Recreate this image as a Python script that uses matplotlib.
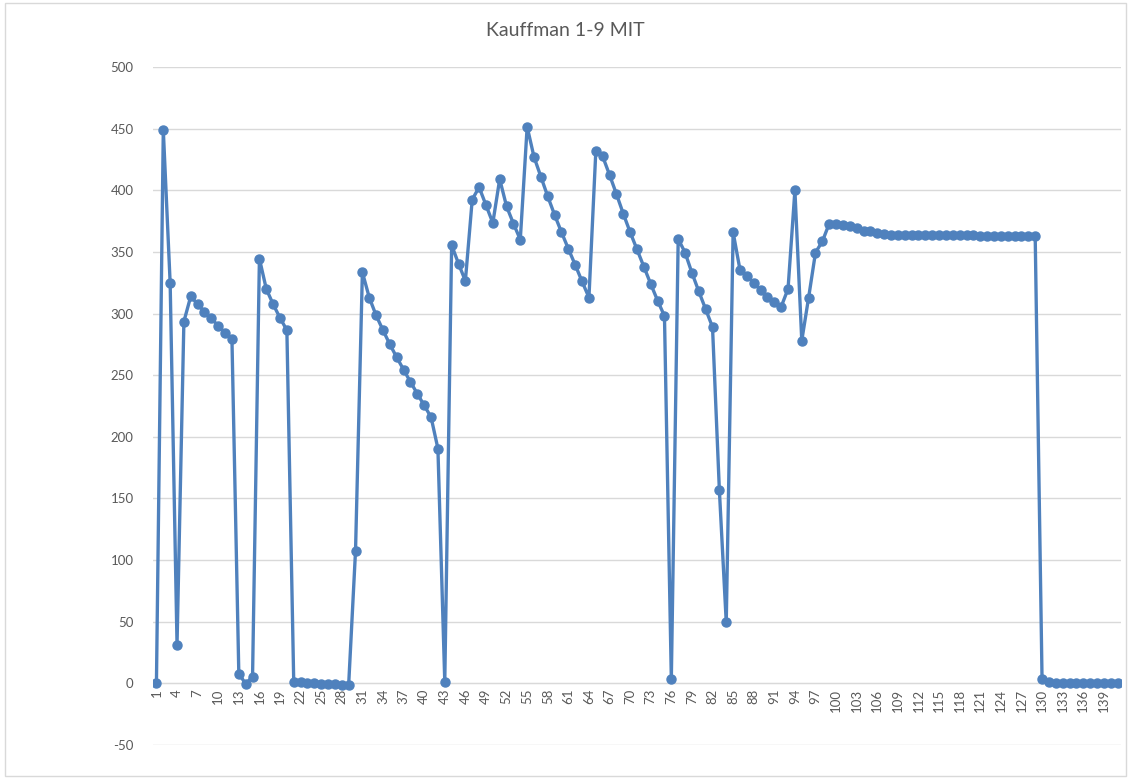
import matplotlib.pyplot as plt
from matplotlib.patches import Rectangle

# values, one per category 1..141
vals_1_10 = [0, 449, 324.5, 31.5, 293.5, 314, 307.5, 301.5, 296, 290]
vals_11_20 = [284.5, 279, 8, -0.5, 5.5, 344.5, 320, 307.5, 296.5, 286.5]
vals_21_30 = [1, 1, 0.5, 0, -0.3, -0.5, -0.7, -1, -1.2, 107.5]
vals_31_40 = [333.5, 313, 298.5, 286.5, 275, 264.5, 254.5, 244.5, 235, 225.5]
vals_41_50 = [216, 190.5, 1.3, 355.5, 340.5, 326.5, 392.5, 402.5, 388, 373.5]
vals_51_60 = [409, 387, 373, 360, 451.5, 427, 411, 395, 380, 366]
vals_61_70 = [352.5, 339.5, 326, 313, 431.5, 427.5, 412.5, 397, 381, 366]
vals_71_80 = [352, 338, 324, 310.5, 298, 3.5, 360.5, 349.5, 333, 318]
vals_81_90 = [303.5, 289, 156.5, 49.5, 366, 335.5, 330.5, 325, 319, 313.5]
vals_91_100 = [309.5, 305.5, 320, 400, 278, 313, 349.5, 358.5, 373, 372.5]
vals_101_110 = [371.5, 371, 369, 367, 367, 365, 364.5, 364, 363.8, 363.7]
vals_111_120 = [363.6, 363.5, 363.5, 363.5, 363.5, 363.5, 363.5, 363.5, 363.5, 363.4]
vals_121_130 = [363.3, 363.3, 363.3, 363.2, 363.2, 363.2, 363.2, 363.2, 363.2, 3.3]
vals_131_141 = [0.8, 0.5, 0.4, 0.3, 0.2, 0.2, 0.1, 0.1, 0, 0, 0]

values = (vals_1_10 + vals_11_20 + vals_21_30 + vals_31_40 + vals_41_50
          + vals_51_60 + vals_61_70 + vals_71_80 + vals_81_90 + vals_91_100
          + vals_101_110 + vals_111_120 + vals_121_130 + vals_131_141)
categories = list(range(1, len(values) + 1))
tick_cats = list(range(1, len(values) + 1, 3))

plt.rcParams['font.family'] = ['Lato', 'DejaVu Sans']
plt.rcParams['axes.unicode_minus'] = False
grey_txt = '#595959'
grid_col = '#D9D9D9'
blue = '#4F81BD'

fig = plt.figure(figsize=(11.31, 7.78), dpi=100)
ax = fig.add_axes([153 / 1131, 33 / 778, 968 / 1131, 678 / 778])

# category axis crosses at 0, like in Excel
for s in ['top', 'right', 'left']:
    ax.spines[s].set_visible(False)
ax.spines['bottom'].set_position(('data', 0))
ax.spines['bottom'].set_color(grid_col)

ax.plot(categories, values, color=blue, linewidth=2.4, marker='o',
        markersize=6.5, markerfacecolor=blue, markeredgecolor=blue, zorder=3)

ax.set_xlim(0.5, len(values) + 0.5)
ax.set_ylim(-50, 500)
ax.set_yticks(range(-50, 501, 50))
ax.set_xticks(tick_cats)
ax.set_xticklabels([str(c) for c in tick_cats])

ax.grid(axis='y', color=grid_col, linewidth=1)
ax.set_axisbelow(True)
ax.tick_params(axis='both', length=0, colors=grey_txt, labelsize=9.5)
ax.tick_params(axis='y', pad=14)
ax.tick_params(axis='x', pad=4, labelrotation=90)

fig.text(0.5, 1 - 31 / 778, 'Kauffman 1-9 MIT', ha='center', va='center',
         fontsize=14, color=grey_txt)

fig.patches.append(Rectangle((0.004, 0.002), 0.992, 0.994, transform=fig.transFigure,
                             fill=False, edgecolor=grid_col, linewidth=1))

fig.savefig('out.png', dpi=100)
